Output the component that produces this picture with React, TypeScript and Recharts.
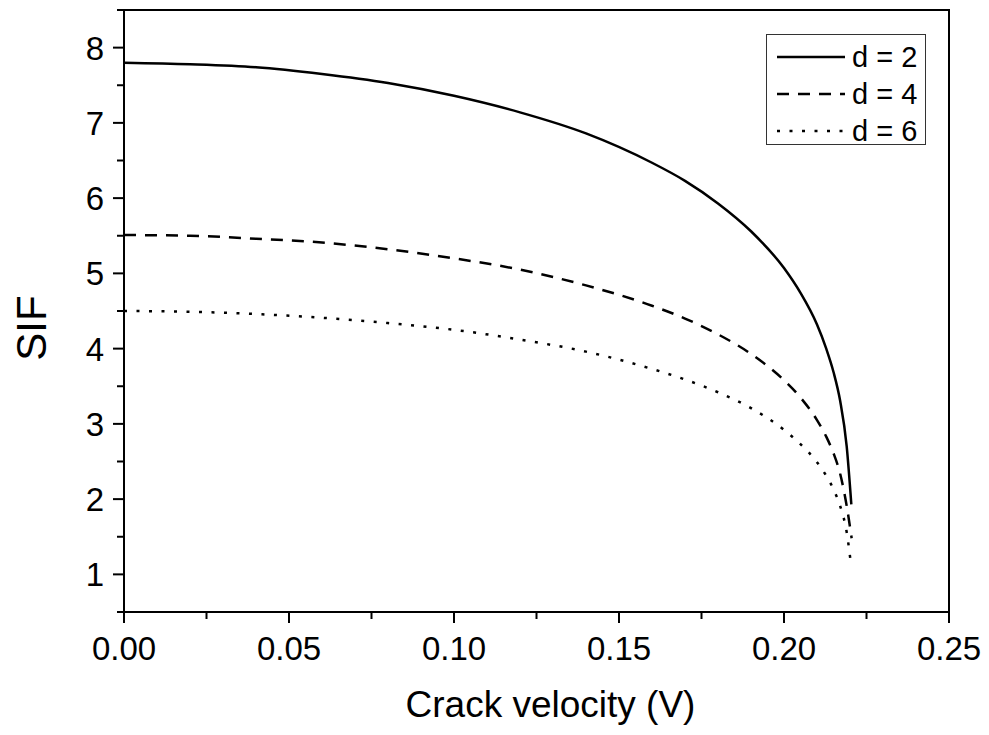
import { LineChart, Line, XAxis, YAxis, ReferenceArea, Legend, Label } from "recharts"

// values
const velocityD2 = [0, 0.02, 0.04, 0.06, 0.08, 0.1, 0.12, 0.14, 0.16, 0.17, 0.18, 0.19, 0.2, 0.205, 0.21, 0.2128, 0.215, 0.217, 0.219, 0.2204]
const sifD2 = [7.8, 7.78, 7.74, 7.65, 7.53, 7.36, 7.14, 6.86, 6.47, 6.23, 5.93, 5.56, 5.07, 4.74, 4.32, 4.0, 3.69, 3.31, 2.7, 1.93]

const velocityD4 = [0, 0.02, 0.04, 0.06, 0.08, 0.1, 0.12, 0.14, 0.16, 0.17, 0.18, 0.19, 0.2, 0.205, 0.21, 0.2128, 0.215, 0.217, 0.219, 0.2205]
const sifD4 = [5.51, 5.5, 5.46, 5.41, 5.32, 5.2, 5.05, 4.84, 4.57, 4.4, 4.19, 3.93, 3.58, 3.35, 3.05, 2.83, 2.61, 2.34, 1.91, 1.48]

const velocityD6 = [0, 0.02, 0.04, 0.06, 0.08, 0.1, 0.12, 0.14, 0.16, 0.17, 0.18, 0.19, 0.2, 0.205, 0.21, 0.2128, 0.215, 0.217, 0.219, 0.2202]
const sifD6 = [4.5, 4.49, 4.46, 4.41, 4.34, 4.25, 4.12, 3.96, 3.73, 3.59, 3.42, 3.21, 2.92, 2.73, 2.49, 2.31, 2.13, 1.91, 1.56, 1.17]

const xTicks = [0, 0.025, 0.05, 0.075, 0.1, 0.125, 0.15, 0.175, 0.2, 0.225, 0.25]
const yTicks = [0.5, 1, 1.5, 2, 2.5, 3, 3.5, 4, 4.5, 5, 5.5, 6, 6.5, 7, 7.5, 8, 8.5]

const seriesNames = ["d = 2", "d = 4", "d = 6"]
const seriesDash = ["", "12 9", "3 9.5"]

const toRows = (xs: number[], ys: number[]) => xs.map((v, i) => ({ v, sif: ys[i] }))
const seriesData = [toRows(velocityD2, sifD2), toRows(velocityD4, sifD4), toRows(velocityD6, sifD6)]

const font = "'Liberation Sans', Arial, Helvetica, sans-serif"

const isMajor = (v: number, step: number) => Math.abs(v / step - Math.round(v / step)) < 1e-6

const XTick = ({ x, y, payload }: any) => {
  const v = payload.value
  const major = isMajor(v, 0.05)
  return <g>
    <line x1={x} y1={y} x2={x} y2={y + (major ? 11 : 7)} stroke="#000" strokeWidth={2} />
    {major && <text x={x} y={y + 48} textAnchor="middle" fontSize={33} fontFamily={font} fill="#000">{v.toFixed(2)}</text>}
  </g>
}

const YTick = ({ x, y, payload }: any) => {
  const v = payload.value
  const major = isMajor(v, 1)
  return <g>
    <line x1={x} y1={y} x2={x - (major ? 11 : 7)} y2={y} stroke="#000" strokeWidth={2} />
    {major && <text x={x - 20} y={y} dy="0.36em" textAnchor="end" fontSize={33} fontFamily={font} fill="#000">{v}</text>}
  </g>
}

const LegendBox = () => (
  <svg width={160} height={111} style={{ display: "block", overflow: "visible" }}>
    <rect x={0.5} y={0.5} width={159} height={110} fill="#fff" stroke="#333" strokeWidth={1} />
    {seriesNames.map((name, i) => {
      const cy = 23 + i * 37
      return <g key={name}>
        <line x1={11} y1={cy} x2={79} y2={cy} stroke="#000" strokeWidth={2.5} strokeDasharray={seriesDash[i] || undefined} />
        <text x={86} y={cy} dy="0.36em" fontSize={29} fontFamily={font} fill="#000">{name}</text>
      </g>
    })}
  </svg>
)

export default function App() {
  return <div style={{ position: "absolute", left: 0, top: 0, background: "#fff" }}>
    <LineChart width={989} height={735} margin={{ top: 10, right: 40, left: 0, bottom: 0 }}>
      <XAxis dataKey="v" type="number" domain={[0, 0.25]} ticks={xTicks} interval={0}
        height={123} tickSize={0} tickMargin={0} tickLine={false} tick={<XTick />}
        axisLine={{ stroke: "#000", strokeWidth: 2 }} allowDataOverflow>
        <Label content={({ viewBox }: any) =>
          <text x={viewBox.x + viewBox.width / 2 + 14} y={viewBox.y + viewBox.height - 18} textAnchor="middle"
            fontSize={37} fontFamily={font} fill="#000">Crack velocity (V)</text>} />
      </XAxis>
      <YAxis type="number" domain={[0.5, 8.5]} ticks={yTicks} interval={0}
        width={124} tickSize={0} tickMargin={0} tickLine={false} tick={<YTick />}
        axisLine={{ stroke: "#000", strokeWidth: 2 }} allowDataOverflow>
        <Label content={({ viewBox }: any) => {
          const cx = 31
          const cy = viewBox.y + viewBox.height / 2 + 17
          return <text x={cx} y={cy} transform={`rotate(-90 ${cx} ${cy})`} textAnchor="middle" dy="0.36em"
            fontSize={42} fontFamily={font} fill="#000">SIF</text>
        }} />
      </YAxis>
      <ReferenceArea x1={0} x2={0.25} y1={0.5} y2={8.5} fill="none" stroke="#000" strokeWidth={2} />
      {seriesData.map((rows, i) => (
        <Line key={seriesNames[i]} data={rows} dataKey="sif" name={seriesNames[i]} type="monotone"
          stroke="#000" strokeWidth={2.5} strokeDasharray={seriesDash[i] || undefined}
          dot={false} activeDot={false} isAnimationActive={false} />
      ))}
      <Legend layout="vertical" align="center" verticalAlign="middle" content={<LegendBox />}
        wrapperStyle={{ left: 766, top: 34, width: 160, height: 111 }} />
    </LineChart>
  </div>
}
